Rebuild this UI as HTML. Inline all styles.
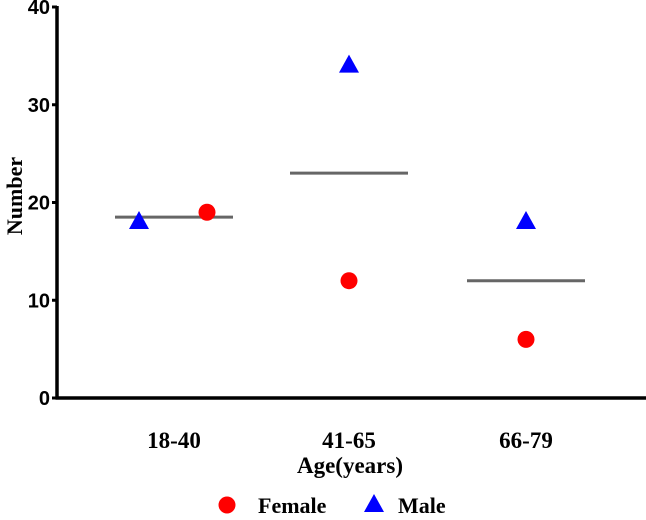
<!DOCTYPE html>
<html><head><meta charset="utf-8"><style>
body{margin:0;background:#fff}
svg text{font-weight:bold}
</style></head><body>
<svg width="646" height="515" xmlns="http://www.w3.org/2000/svg">
<g id="axes"></g><g id="marks"></g>
</svg>
<script>
const categories=["18-40","41-65","66-79"];
const female=[19,12,6];
const male=[18,34,18];
const means=[18.5,23,12];
const yTicks=[0,10,20,30,40];
const NS="http://www.w3.org/2000/svg";
const X0=57,Y0=398,YT=7,catX=[174,349,526];
const y=v=>Y0-(v/40)*(Y0-YT);
const x=i=>catX[i];
function mk(tag,attrs,parent,txt){const e=document.createElementNS(NS,tag);for(const k in attrs)e.setAttribute(k,attrs[k]);if(txt!==undefined)e.textContent=txt;parent.appendChild(e);return e;}
const ax=document.getElementById('axes'),mg=document.getElementById('marks');
let e=mk('line',{x1:X0,y1:YT-1,x2:X0,y2:Y0+1.5,stroke:'#000','stroke-width':3.5},ax);


e=mk('line',{x1:X0-1.5,y1:Y0,x2:646,y2:Y0,stroke:'#000','stroke-width':3.5},ax);


yTicks.forEach(t=>{
 let l=mk('line',{x1:X0-5,y1:y(t),x2:X0,y2:y(t),stroke:'#000','stroke-width':3},ax);
 
 
 let tx=mk('text',{x:X0-7,y:y(t)+7,'text-anchor':'end','font-family':'Liberation Sans, sans-serif','font-size':20},ax,t);
 
 
});
categories.forEach((c,i)=>{
 let tx=mk('text',{x:x(i),y:448,'text-anchor':'middle','font-family':'Liberation Serif, serif','font-size':23},ax,c);
 
 
});
e=mk('text',{x:350,y:473,'text-anchor':'middle','font-family':'Liberation Serif, serif','font-size':23},ax,'Age(years)');


e=mk('text',{x:0,y:0,transform:'translate(22,196) rotate(-90)','text-anchor':'middle','font-family':'Liberation Serif, serif','font-size':22},ax,'Number');


means.forEach((m,i)=>{
 let l=mk('line',{x1:x(i)-59,x2:x(i)+59,y1:y(m),y2:y(m),stroke:'#666','stroke-width':3},mg);
 
 
});
const off=[[-35,33],[0,0],[0,0]];
female.forEach((v,i)=>{
 let c=mk('circle',{cx:x(i)+off[i][1],cy:y(v),r:8.5,fill:'#f00'},mg);
 
 
});
male.forEach((v,i)=>{
 const cx=x(i)+off[i][0],cy=y(v);
 let p=mk('polygon',{points:`${cx},${cy-11} ${cx-10},${cy+7} ${cx+10},${cy+7}`,fill:'#00f'},mg);
 
 
});
let lc=mk('circle',{cx:227,cy:505,r:8.5,fill:'#f00'},ax);


let lt=mk('text',{x:258,y:513,'font-family':'Liberation Serif, serif','font-size':22},ax,'Female');


let lp=mk('polygon',{points:'374,494 364,512 384,512',fill:'#00f'},ax);


let lm=mk('text',{x:398,y:513,'font-family':'Liberation Serif, serif','font-size':22},ax,'Male');


</script>
</body></html>
